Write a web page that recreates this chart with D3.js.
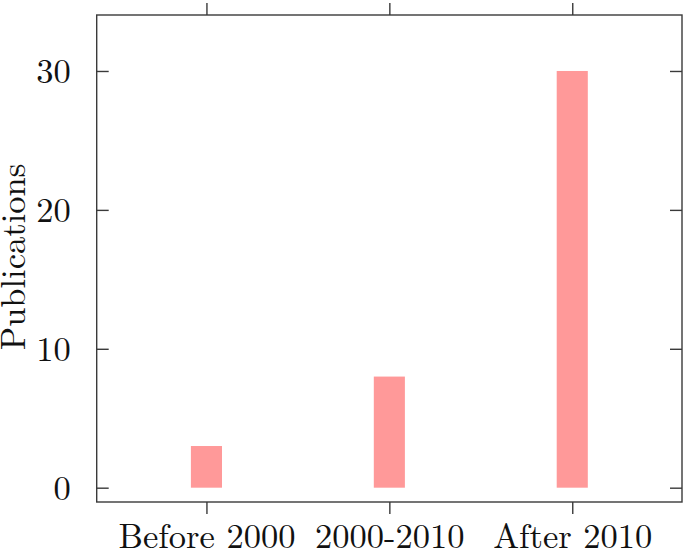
<!DOCTYPE html>
<html><head><meta charset="utf-8">
<script src="https://cdn.jsdelivr.net/npm/d3@7"></script>
<style>html,body{margin:0;padding:0;background:#fff;}svg{display:block;}</style>
</head><body>
<svg id="chart" width="685" height="553"></svg>
<script>
const categories = ["Before 2000", "2000-2010", "After 2010"];
const publications = [3, 8, 30];
const yTicks = [0, 10, 20, 30];
const yLabel = "Publications";

const svg = d3.select("#chart");
const L = 96.7, R = 682, T = 15, B = 502;
const font = "'Latin Modern Roman', 'CMU Serif', 'Liberation Serif', serif";
const fs = 34.5;
const stroke = "#3a3a3a";

const x = d3.scaleLinear().domain([-0.6, categories.length - 1 + 0.6]).range([L, R]);
const y = d3.scaleLinear().domain([-1.03, 34.03]).range([B, T]);
const barW = 0.17;

// bars
svg.append("g").selectAll("rect").data(publications).join("rect")
  .attr("x", (d, i) => x(i - barW / 2))
  .attr("width", (d, i) => x(i + barW / 2) - x(i - barW / 2))
  .attr("y", d => y(d))
  .attr("height", d => y(0) - y(d))
  .attr("fill", "#ff9999");

// frame
svg.append("rect").attr("x", L).attr("y", T).attr("width", R - L).attr("height", B - T)
  .attr("fill", "none").attr("stroke", stroke).attr("stroke-width", 1.4);

// x axis bottom (ticks outward)
const xb = svg.append("g").attr("transform", `translate(0,${B})`)
  .call(d3.axisBottom(x).tickValues(categories.map((c, i) => i)).tickSize(12).tickFormat(i => categories[i]));
xb.select(".domain").remove();
xb.selectAll(".tick line").attr("stroke", stroke).attr("stroke-width", 1.4);
xb.selectAll(".tick text").attr("font-family", font).attr("font-size", fs).attr("fill", "#111")
  .attr("y", 45.5).attr("dy", 0);

// x axis top
const xt = svg.append("g").attr("transform", `translate(0,${T})`)
  .call(d3.axisTop(x).tickValues(categories.map((c, i) => i)).tickSize(12).tickFormat(""));
xt.select(".domain").remove();
xt.selectAll(".tick line").attr("stroke", stroke).attr("stroke-width", 1.4);

// y axis left (ticks inward)
const yl = svg.append("g").attr("transform", `translate(${L},0)`)
  .call(d3.axisLeft(y).tickValues(yTicks).tickSize(-12).tickPadding(26));
yl.select(".domain").remove();
yl.selectAll(".tick line").attr("stroke", stroke).attr("stroke-width", 1.4);
yl.selectAll(".tick text").attr("font-family", font).attr("font-size", fs).attr("fill", "#111")
  .attr("dy", "0.33em");

// y axis right (ticks inward)
const yr = svg.append("g").attr("transform", `translate(${R},0)`)
  .call(d3.axisRight(y).tickValues(yTicks).tickSize(-12).tickFormat(""));
yr.select(".domain").remove();
yr.selectAll(".tick line").attr("stroke", stroke).attr("stroke-width", 1.4);

// y label
svg.append("text")
  .attr("transform", `translate(25,257) rotate(-90)`)
  .attr("text-anchor", "middle")
  .attr("font-family", font).attr("font-size", fs).attr("fill", "#111")
  .text(yLabel);
</script>
</body></html>
